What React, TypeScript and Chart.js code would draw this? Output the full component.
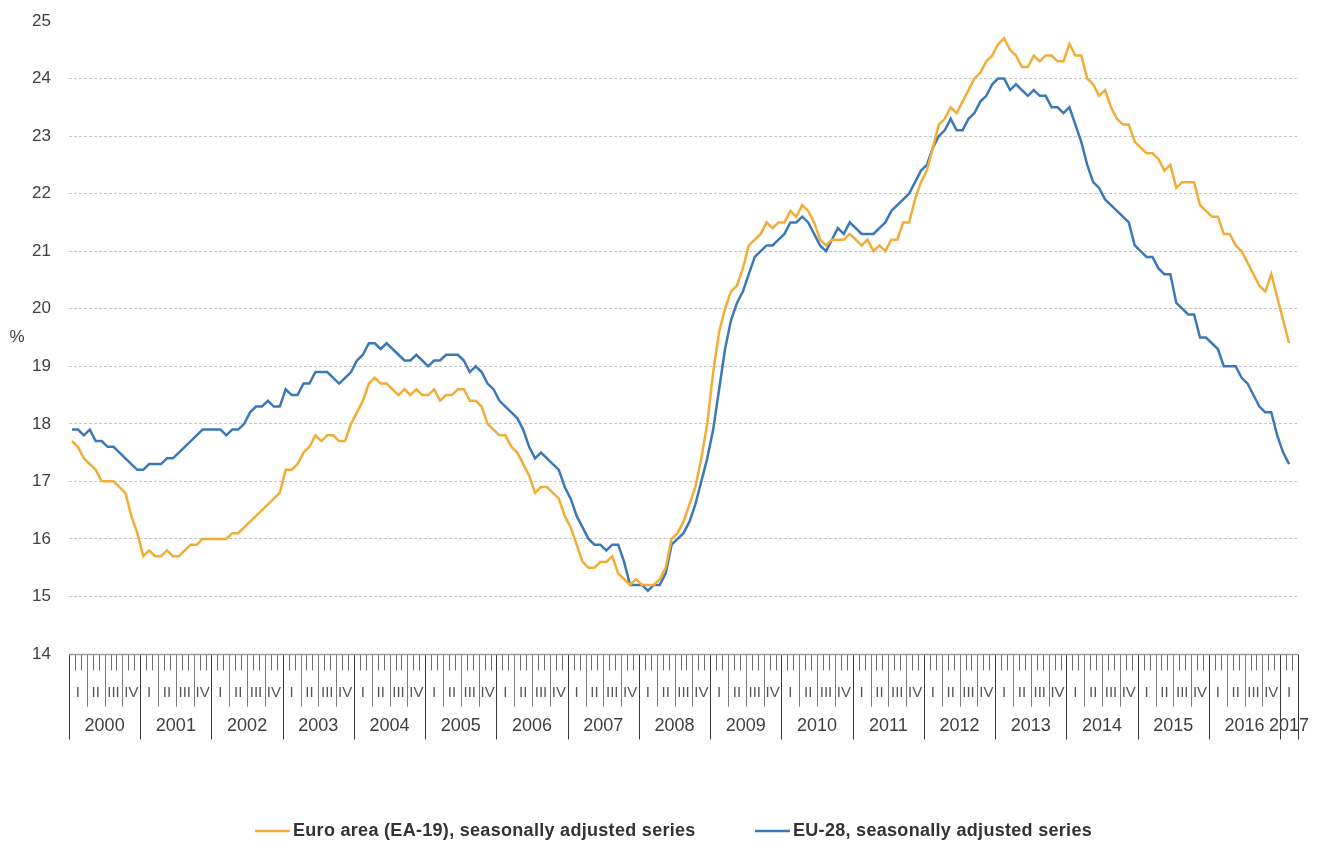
import React, { useEffect, useRef } from 'react';
import { Chart, registerables } from 'chart.js';

Chart.register(...registerables);

// ---- Data ----
const YEARS = [2000, 2001, 2002, 2003, 2004, 2005, 2006, 2007, 2008, 2009, 2010, 2011, 2012, 2013, 2014, 2015, 2016, 2017];
const MONTHS_SHOWN_LAST_YEAR = 3; // axis runs Jan 2000 - Mar 2017
const QUARTERS = ['I', 'II', 'III', 'IV'];
const Y_MIN = 14;
const Y_MAX = 25;
const PERCENT_LABEL = '%';

const SERIES_NAMES = ['Euro area (EA-19), seasonally adjusted series', 'EU-28, seasonally adjusted series'];
const SERIES_COLORS = ['#F2AC38', '#3B78B6'];

// Euro area (EA-19), monthly from Jan 2000
const EA19 = [
  17.7, 17.6, 17.4, 17.3, 17.2, 17.0, 17.0, 17.0, 16.9, 16.8, 16.4, 16.1,
  15.7, 15.8, 15.7, 15.7, 15.8, 15.7, 15.7, 15.8, 15.9, 15.9, 16.0, 16.0,
  16.0, 16.0, 16.0, 16.1, 16.1, 16.2, 16.3, 16.4, 16.5, 16.6, 16.7, 16.8,
  17.2, 17.2, 17.3, 17.5, 17.6, 17.8, 17.7, 17.8, 17.8, 17.7, 17.7, 18.0,
  18.2, 18.4, 18.7, 18.8, 18.7, 18.7, 18.6, 18.5, 18.6, 18.5, 18.6, 18.5,
  18.5, 18.6, 18.4, 18.5, 18.5, 18.6, 18.6, 18.4, 18.4, 18.3, 18.0, 17.9,
  17.8, 17.8, 17.6, 17.5, 17.3, 17.1, 16.8, 16.9, 16.9, 16.8, 16.7, 16.4,
  16.2, 15.9, 15.6, 15.5, 15.5, 15.6, 15.6, 15.7, 15.4, 15.3, 15.2, 15.3,
  15.2, 15.2, 15.2, 15.3, 15.5, 16.0, 16.1, 16.3, 16.6, 16.9, 17.4, 18.0,
  18.9, 19.6, 20.0, 20.3, 20.4, 20.7, 21.1, 21.2, 21.3, 21.5, 21.4, 21.5,
  21.5, 21.7, 21.6, 21.8, 21.7, 21.5, 21.2, 21.1, 21.2, 21.2, 21.2, 21.3,
  21.2, 21.1, 21.2, 21.0, 21.1, 21.0, 21.2, 21.2, 21.5, 21.5, 21.9, 22.2,
  22.4, 22.8, 23.2, 23.3, 23.5, 23.4, 23.6, 23.8, 24.0, 24.1, 24.3, 24.4,
  24.6, 24.7, 24.5, 24.4, 24.2, 24.2, 24.4, 24.3, 24.4, 24.4, 24.3, 24.3,
  24.6, 24.4, 24.4, 24.0, 23.9, 23.7, 23.8, 23.5, 23.3, 23.2, 23.2, 22.9,
  22.8, 22.7, 22.7, 22.6, 22.4, 22.5, 22.1, 22.2, 22.2, 22.2, 21.8, 21.7,
  21.6, 21.6, 21.3, 21.3, 21.1, 21.0, 20.8, 20.6, 20.4, 20.3, 20.6, 20.2,
  19.8, 19.4,
];

// EU-28, monthly from Jan 2000
const EU28 = [
  17.9, 17.9, 17.8, 17.9, 17.7, 17.7, 17.6, 17.6, 17.5, 17.4, 17.3, 17.2,
  17.2, 17.3, 17.3, 17.3, 17.4, 17.4, 17.5, 17.6, 17.7, 17.8, 17.9, 17.9,
  17.9, 17.9, 17.8, 17.9, 17.9, 18.0, 18.2, 18.3, 18.3, 18.4, 18.3, 18.3,
  18.6, 18.5, 18.5, 18.7, 18.7, 18.9, 18.9, 18.9, 18.8, 18.7, 18.8, 18.9,
  19.1, 19.2, 19.4, 19.4, 19.3, 19.4, 19.3, 19.2, 19.1, 19.1, 19.2, 19.1,
  19.0, 19.1, 19.1, 19.2, 19.2, 19.2, 19.1, 18.9, 19.0, 18.9, 18.7, 18.6,
  18.4, 18.3, 18.2, 18.1, 17.9, 17.6, 17.4, 17.5, 17.4, 17.3, 17.2, 16.9,
  16.7, 16.4, 16.2, 16.0, 15.9, 15.9, 15.8, 15.9, 15.9, 15.6, 15.2, 15.2,
  15.2, 15.1, 15.2, 15.2, 15.4, 15.9, 16.0, 16.1, 16.3, 16.6, 17.0, 17.4,
  17.9, 18.6, 19.3, 19.8, 20.1, 20.3, 20.6, 20.9, 21.0, 21.1, 21.1, 21.2,
  21.3, 21.5, 21.5, 21.6, 21.5, 21.3, 21.1, 21.0, 21.2, 21.4, 21.3, 21.5,
  21.4, 21.3, 21.3, 21.3, 21.4, 21.5, 21.7, 21.8, 21.9, 22.0, 22.2, 22.4,
  22.5, 22.8, 23.0, 23.1, 23.3, 23.1, 23.1, 23.3, 23.4, 23.6, 23.7, 23.9,
  24.0, 24.0, 23.8, 23.9, 23.8, 23.7, 23.8, 23.7, 23.7, 23.5, 23.5, 23.4,
  23.5, 23.2, 22.9, 22.5, 22.2, 22.1, 21.9, 21.8, 21.7, 21.6, 21.5, 21.1,
  21.0, 20.9, 20.9, 20.7, 20.6, 20.6, 20.1, 20.0, 19.9, 19.9, 19.5, 19.5,
  19.4, 19.3, 19.0, 19.0, 19.0, 18.8, 18.7, 18.5, 18.3, 18.2, 18.2, 17.8,
  17.5, 17.3,
];

// month categories (year, month index) for the axis
const CAT_YEAR: number[] = [];
const CAT_MONTH: number[] = [];
YEARS.forEach((yr, yi) => {
  const count = yi === YEARS.length - 1 ? MONTHS_SHOWN_LAST_YEAR : 12;
  for (let m = 0; m < count; m++) {
    CAT_YEAR.push(yr);
    CAT_MONTH.push(m);
  }
});
const LABELS = CAT_YEAR.map((yr, i) => `${yr}M${String(CAT_MONTH[i] + 1).padStart(2, '0')}`);

const FONT = '"Liberation Sans", Arial, sans-serif';

const axisPlugin = {
  id: 'multiLevelAxis',
  afterDraw(chart: any) {
    const { ctx } = chart;
    const x = chart.scales.x;
    const y = chart.scales.y;
    const n = chart.data.labels.length;
    const half = (x.getPixelForValue(1) - x.getPixelForValue(0)) / 2;
    const edge = (k: number) => (k >= n ? x.getPixelForValue(n - 1) + half : x.getPixelForValue(k) - half);
    const axisY = Math.round(y.getPixelForValue(Y_MIN)) + 0.5;

    ctx.save();
    // month / quarter / year separators
    for (let k = 0; k <= n; k++) {
      const px = Math.round(edge(k)) + 0.5;
      let len = 16;
      let color = '#6e6e6e';
      if (k === n || CAT_MONTH[k] === 0) {
        len = 85;
        color = '#3a3a3a';
      } else if (CAT_MONTH[k] % 3 === 0) {
        len = 52;
        color = '#7a7a7a';
      }
      ctx.strokeStyle = color;
      ctx.lineWidth = 1;
      ctx.beginPath();
      ctx.moveTo(px, axisY);
      ctx.lineTo(px, axisY + len);
      ctx.stroke();
    }
    // axis line
    ctx.strokeStyle = '#9a9a9a';
    ctx.lineWidth = 1.5;
    ctx.beginPath();
    ctx.moveTo(x.left, axisY);
    ctx.lineTo(x.right, axisY);
    ctx.stroke();

    // quarter labels
    ctx.textAlign = 'center';
    ctx.textBaseline = 'middle';
    ctx.fillStyle = '#555555';
    ctx.font = `15px ${FONT}`;
    let k = 0;
    while (k < n) {
      const q = Math.floor(CAT_MONTH[k] / 3);
      let e = k;
      while (e + 1 < n && CAT_YEAR[e + 1] === CAT_YEAR[k] && Math.floor(CAT_MONTH[e + 1] / 3) === q) e++;
      ctx.fillText(QUARTERS[q], (edge(k) + edge(e + 1)) / 2, axisY + 38);
      k = e + 1;
    }
    // year labels
    ctx.fillStyle = '#404040';
    ctx.font = `18px ${FONT}`;
    k = 0;
    while (k < n) {
      let e = k;
      while (e + 1 < n && CAT_YEAR[e + 1] === CAT_YEAR[k]) e++;
      ctx.fillText(String(CAT_YEAR[k]), (edge(k) + edge(e + 1)) / 2, axisY + 72);
      k = e + 1;
    }

    // unit label
    ctx.fillStyle = '#404040';
    ctx.font = `17px ${FONT}`;
    ctx.fillText(PERCENT_LABEL, 17, (y.getPixelForValue(20) + y.getPixelForValue(19)) / 2);

    // legend
    const legendX = [255, 755];
    const legendY = 831;
    chart.data.datasets.forEach((ds: any, i: number) => {
      ctx.strokeStyle = ds.borderColor;
      ctx.lineWidth = 2.5;
      ctx.beginPath();
      ctx.moveTo(legendX[i], legendY);
      ctx.lineTo(legendX[i] + 35, legendY);
      ctx.stroke();
      ctx.fillStyle = '#333333';
      ctx.textAlign = 'left';
      ctx.font = `bold 18px ${FONT}`;
      try {
        (ctx as any).letterSpacing = '0.3px';
      } catch (e) {}
      ctx.fillText(ds.label, legendX[i] + 38, legendY);
      try {
        (ctx as any).letterSpacing = '0px';
      } catch (e) {}
    });
    ctx.restore();
  },
};

export default function App() {
  const ref = useRef<HTMLCanvasElement | null>(null);
  useEffect(() => {
    if (!ref.current) return;
    const chart = new Chart(ref.current, {
      type: 'line',
      data: {
        labels: LABELS,
        datasets: [
          {
            label: SERIES_NAMES[0],
            data: EA19,
            borderColor: SERIES_COLORS[0],
            backgroundColor: SERIES_COLORS[0],
            borderWidth: 2.5,
            pointRadius: 0,
            tension: 0,
          },
          {
            label: SERIES_NAMES[1],
            data: EU28,
            borderColor: SERIES_COLORS[1],
            backgroundColor: SERIES_COLORS[1],
            borderWidth: 2.5,
            pointRadius: 0,
            tension: 0,
          },
        ],
      },
      options: {
        responsive: false,
        animation: false,
        layout: { padding: { left: 0, top: 21, right: 21, bottom: 188 } },
        plugins: {
          legend: { display: false },
          tooltip: { enabled: false },
        },
        scales: {
          x: {
            type: 'category',
            display: false,
            offset: true,
          },
          y: {
            min: Y_MIN,
            max: Y_MAX,
            afterFit: (s: any) => {
              s.width = 69;
            },
            ticks: {
              stepSize: 1,
              padding: 3,
              color: '#404040',
              font: { size: 17, family: FONT },
            },
            grid: {
              drawTicks: true,
              tickLength: 15,
              tickColor: 'rgba(0,0,0,0)',
              color: (c: any) =>
                c.tick && (c.tick.value === Y_MAX || c.tick.value === Y_MIN) ? 'rgba(0,0,0,0)' : '#c4c4c4',
              lineWidth: 1,
            },
            border: { display: false, dash: [3, 2] },
          },
        },
      },
      plugins: [axisPlugin],
    });
    return () => chart.destroy();
  }, []);
  return (
    <div style={{ position: 'absolute', left: 0, top: 0, width: 1319, height: 842, background: '#fff' }}>
      <canvas ref={ref} width={1319} height={842} style={{ display: 'block' }} />
    </div>
  );
}
